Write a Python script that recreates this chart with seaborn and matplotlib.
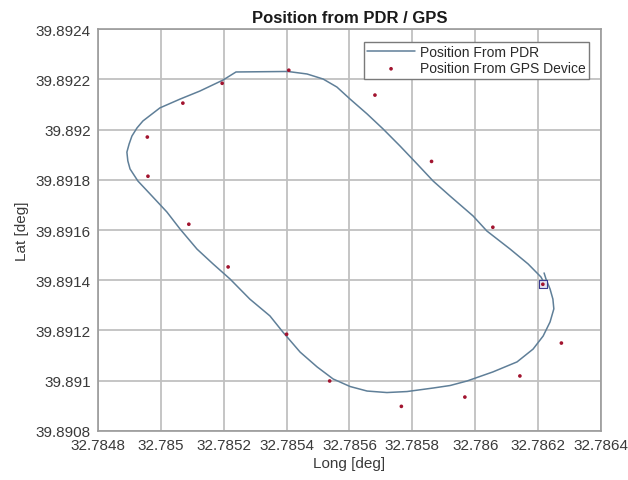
import matplotlib
matplotlib.use("Agg")
import matplotlib.pyplot as plt
import seaborn as sns
import pandas as pd

# PDR track (longitude / latitude, degrees)
pdr_lon = [32.786219, 32.786225, 32.786238, 32.786247, 32.786250, 32.786238, 32.786216,
           32.786184, 32.786133, 32.786056, 32.785974, 32.785920, 32.785866, 32.785783,
           32.785719, 32.785656, 32.785602, 32.785548, 32.785497, 32.785443, 32.785388,
           32.785347, 32.785283, 32.785220, 32.785166, 32.785115, 32.785061, 32.785019,
           32.784972, 32.784927, 32.784902, 32.784895, 32.784892, 32.784899, 32.784908,
           32.784924, 32.784943, 32.784997,
           32.785061, 32.785124, 32.785198, 32.785239, 32.785404, 32.785465, 32.785516,
           32.785560, 32.785602, 32.785656, 32.785707, 32.785761, 32.785815, 32.785866,
           32.785920, 32.785993, 32.786037, 32.786111, 32.786168, 32.786209, 32.786216]
pdr_lat = [39.891429, 39.891405, 39.891365, 39.891325, 39.891286, 39.891234, 39.891178,
           39.891126, 39.891075, 39.891035, 39.890999, 39.890981, 39.890971, 39.890957,
           39.890953, 39.890959, 39.890977, 39.891007, 39.891055, 39.891114, 39.891194,
           39.891258, 39.891325, 39.891405, 39.891465, 39.891524, 39.891604, 39.891672,
           39.891735, 39.891795, 39.891843, 39.891875, 39.891910, 39.891942, 39.891974,
           39.892006, 39.892034, 39.892086,
           39.892121, 39.892153, 39.892197, 39.892229, 39.892231, 39.892221, 39.892201,
           39.892169, 39.892121, 39.892062, 39.892002, 39.891934, 39.891863, 39.891795,
           39.891735, 39.891656, 39.891596, 39.891524, 39.891465, 39.891413, 39.891397]

# GPS device fixes
gps_lon = [32.785195, 32.785070, 32.784957, 32.784959, 32.785089, 32.785214, 32.785407,
           32.785681, 32.785861, 32.786056, 32.786215, 32.786274, 32.786142, 32.785967,
           32.785765, 32.785537, 32.785400]
gps_lat = [39.892184, 39.892105, 39.891970, 39.891814, 39.891623, 39.891453, 39.892236,
           39.892137, 39.891873, 39.891611, 39.891384, 39.891150, 39.891019, 39.890935,
           39.890898, 39.890999, 39.891185]

# start point of the walk
start_lon = [32.786215]
start_lat = [39.891384]

x_ticks = [32.7848, 32.7850, 32.7852, 32.7854, 32.7856, 32.7858, 32.7860, 32.7862, 32.7864]
x_tick_labels = ["32.7848", "32.785", "32.7852", "32.7854", "32.7856", "32.7858",
                 "32.786", "32.7862", "32.7864"]
y_ticks = [39.8908, 39.8910, 39.8912, 39.8914, 39.8916, 39.8918, 39.8920, 39.8922, 39.8924]
y_tick_labels = ["39.8908", "39.891", "39.8912", "39.8914", "39.8916", "39.8918",
                 "39.892", "39.8922", "39.8924"]

sns.set_style("whitegrid", {
    "grid.color": "#c0c0c0",
    "axes.edgecolor": "#9a9a9a",
})
plt.rcParams["font.family"] = ["Liberation Sans", "DejaVu Sans"]
plt.rcParams["text.color"] = "#262626"
plt.rcParams["axes.labelcolor"] = "#3a3a3a"
plt.rcParams["xtick.color"] = "#3a3a3a"
plt.rcParams["ytick.color"] = "#3a3a3a"

fig = plt.figure(figsize=(6.28, 4.81), dpi=100)
ax = fig.add_axes([0.156, 0.1019, 0.801, 0.8357])

pdr = pd.DataFrame({"lon": pdr_lon, "lat": pdr_lat})
gps = pd.DataFrame({"lon": gps_lon, "lat": gps_lat})
start = pd.DataFrame({"lon": start_lon, "lat": start_lat})

sns.lineplot(data=pdr, x="lon", y="lat", sort=False, estimator=None, ax=ax,
             color="#5f7f98", linewidth=1.1, label="Position From PDR", zorder=3)
sns.scatterplot(data=start, x="lon", y="lat", ax=ax, marker="s", s=28,
                facecolor="#e4e4f2", edgecolor="#3a3a90", linewidth=0.8, zorder=4,
                legend=False)
sns.scatterplot(data=gps, x="lon", y="lat", ax=ax, color="#a2142f", s=7,
                edgecolor="none", label="Position From GPS Device", zorder=5)

ax.set_xlim(32.7848, 32.7864)
ax.set_ylim(39.8908, 39.8924)
ax.set_xticks(x_ticks)
ax.set_xticklabels(x_tick_labels)
ax.set_yticks(y_ticks)
ax.set_yticklabels(y_tick_labels)
ax.tick_params(axis="both", labelsize=11, length=0, pad=5)
ax.grid(True, color="#c0c0c0", linewidth=1.3)
for sp in ax.spines.values():
    sp.set_color("#9a9a9a")
    sp.set_linewidth(1.2)

ax.set_xlabel("Long [deg]", fontsize=11, labelpad=3)
ax.set_ylabel("Lat [deg]", fontsize=11, labelpad=5)
ax.set_title("Position from PDR / GPS", fontsize=12, fontweight="bold", pad=5,
             color="#1a1a1a")

leg = ax.legend(loc="upper right", bbox_to_anchor=(0.977, 0.968), fontsize=10,
                frameon=True, fancybox=False, framealpha=1, edgecolor="#7a7a7a",
                handlelength=3.4, borderpad=0.25, labelspacing=0.15, handletextpad=0.4,
                borderaxespad=0)
leg.get_frame().set_linewidth(1.0)
for t in leg.get_texts():
    t.set_color("#2a2a2a")

fig.savefig("out.png", dpi=100)
